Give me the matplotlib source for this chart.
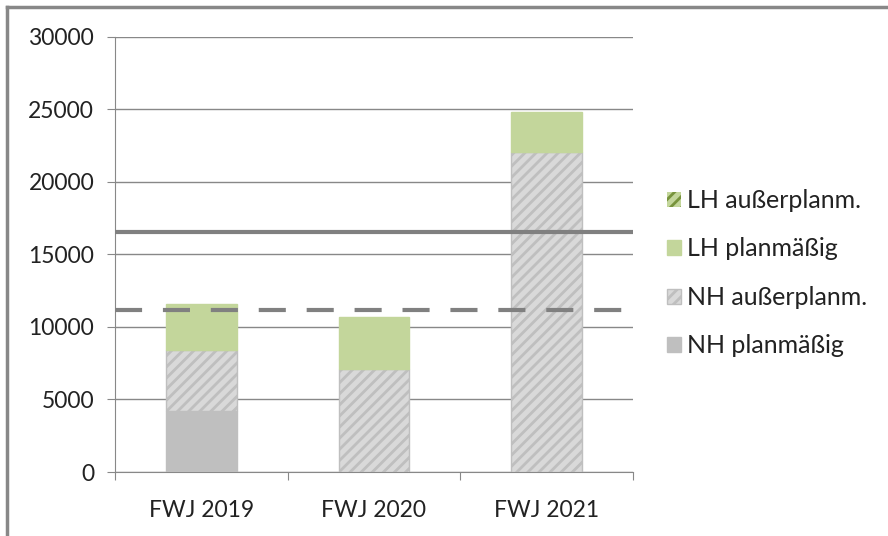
import matplotlib.pyplot as plt
import numpy as np

# Data
years = ['FWJ 2019', 'FWJ 2020', 'FWJ 2021']
nh_plan = [4200, 0, 0]
nh_ausser = [4200, 7100, 22090]
lh_plan = [3200, 3610, 2760]
lh_ausser = [0, 0, 0]
line_solid = 16550
line_dashed = 11170

plt.rcParams['font.family'] = ['Lato', 'DejaVu Sans']
plt.rcParams['hatch.linewidth'] = 2.0

fig = plt.figure(figsize=(8.88, 5.36), dpi=100)
ax = fig.add_axes([0.1295, 0.1194, 0.5833, 0.8116])

x = np.arange(len(years))
w = 0.41
b1 = np.array(nh_plan)
b2 = b1 + np.array(nh_ausser)
b3 = b2 + np.array(lh_plan)

ax.bar(x, nh_plan, w, color='#bfbfbf', edgecolor='#bfbfbf', lw=1,
       label='NH planmäßig', zorder=3)
ax.bar(x, nh_ausser, w, bottom=b1, color='#d9d9d9', edgecolor='#bfbfbf',
       hatch='///', lw=1, label='NH außerplanm.', zorder=3)
ax.bar(x, lh_plan, w, bottom=b2, color='#c3d69b', edgecolor='#c3d69b',
       lw=1, label='LH planmäßig', zorder=3)
ax.bar(x, lh_ausser, w, bottom=b3, color='#c3d69b', edgecolor='#77933c',
       hatch='///', lw=0, label='LH außerplanm.', zorder=3)

ax.axhline(line_solid, color='#808080', lw=3, zorder=4)
ax.axhline(line_dashed, color='#808080', lw=3, ls=(0, (6.5, 5)), zorder=4)

ax.set_xlim(-0.5, 2.5)
ax.set_ylim(0, 30000)
ax.set_yticks(range(0, 30001, 5000))
ax.set_xticks([-0.5, 0.5, 1.5, 2.5], minor=False)
ax.set_xticklabels([])
ax.set_xticks(x, minor=True)
ax.set_xticklabels(years, minor=True)
ax.tick_params(axis='x', which='major', length=6, color='#888888', direction='out')
ax.tick_params(axis='x', which='minor', length=0, labelsize=16.5, pad=20, labelcolor='#222222')
ax.tick_params(axis='y', length=6, color='#888888', labelsize=16.5, pad=9, labelcolor='#222222')

ax.grid(axis='y', color='#888888', lw=1, zorder=0)
for s in ['top', 'right']:
    ax.spines[s].set_visible(False)
for s in ['left', 'bottom']:
    ax.spines[s].set_color('#888888')

handles, labels = ax.get_legend_handles_labels()
ax.legend(handles[::-1], labels[::-1], loc='center left', bbox_to_anchor=(1.022, 0.457),
          frameon=False, fontsize=18, handlelength=0.55, handleheight=0.55,
          handletextpad=0.25, labelspacing=1.02, labelcolor='#222222')

# chart border (top and left visible)
fig.add_artist(plt.Line2D([0.008, 1.0], [0.987, 0.987], color='#888888', lw=2.5,
                          transform=fig.transFigure))
fig.add_artist(plt.Line2D([0.008, 0.008], [0.0, 0.987], color='#888888', lw=2.5,
                          transform=fig.transFigure))

fig.savefig('out.png', dpi=100)
